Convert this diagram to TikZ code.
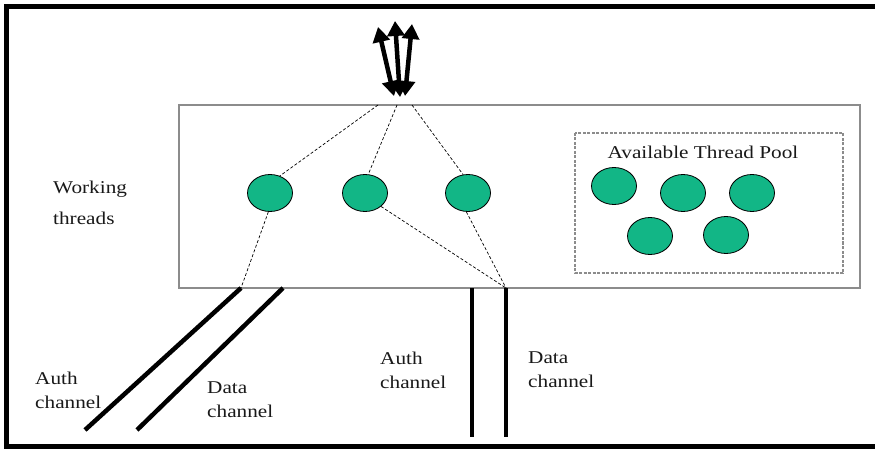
\documentclass[tikz,border=0pt]{standalone}
\usepackage{fontspec}
\setmainfont[FakeStretch=1.18]{Liberation Serif}
\usetikzlibrary{arrows.meta,shapes.geometric}
\definecolor{threadgreen}{RGB}{18,182,134}
\definecolor{boxgray}{RGB}{140,140,140}
\definecolor{textgray}{RGB}{25,25,25}
\tikzset{
  thread/.style={ellipse, draw=black, line width=0.8pt, fill=threadgreen,
    minimum width=45pt, minimum height=37pt, inner sep=0pt},
  link/.style={draw=black, line width=0.7pt, dash pattern=on 3pt off 2pt},
  channel/.style={draw=black, line width=4.5pt},
  io/.style={draw=black, line width=4.5pt,
    {Triangle[length=15pt,width=17pt]}-{Triangle[length=15pt,width=17pt]}},
  lbl/.style={text=textgray, align=left, inner sep=0pt, font=\fontsize{18}{24}\selectfont},
}
\begin{document}
\begin{tikzpicture}[x=1pt,y=-1pt]
  \useasboundingbox (0,0) rectangle (875,449);
  \fill[white] (0,0) rectangle (875,449);

  % outer frame, open on the right
  \draw[line width=5pt] (875,6.5) -- (6.5,6.5) -- (6.5,446.5) -- (875,446.5);

  % server box and pool box
  \draw[boxgray, line width=2pt] (179,105) rectangle (860,288);
  \draw[boxgray, line width=1.3pt, dash pattern=on 3pt off 1.5pt] (575,133) rectangle (843,273);
  \node[text=textgray, font=\fontsize{18}{20}\selectfont] (pooltitle) at (703,152) {Available Thread Pool};

  % working threads
  \node[thread] (w1) at (270,193) {};
  \node[thread] (w2) at (365,193) {};
  \node[thread] (w3) at (468,193) {};

  % pool threads
  \node[thread] (p1) at (614,186) {};
  \node[thread] (p2) at (683,193) {};
  \node[thread] (p3) at (752,193) {};
  \node[thread] (p4) at (650,236) {};
  \node[thread] (p5) at (726,235) {};

  % labels
  \node[lbl, anchor=west, font=\fontsize{18}{31}\selectfont] (working) at (53,203) {Working\\threads};
  \node[lbl, anchor=west] (auth1) at (35,390) {Auth\\channel};
  \node[lbl, anchor=west] (data1) at (207,400) {Data\\channel};
  \node[lbl, anchor=west] (auth2) at (380,370) {Auth\\channel};
  \node[lbl, anchor=west] (data2) at (528,370) {Data\\channel};

  % client/server traffic at the top
  \coordinate (t1) at (378,27);  \coordinate (b1) at (394,96);
  \coordinate (t2) at (395,21);  \coordinate (b2) at (400,97);
  \coordinate (t3) at (412,24);  \coordinate (b3) at (405,96);
  \draw[io] (b1) -- (t1);
  \draw[io] (b2) -- (t2);
  \draw[io] (b3) -- (t3);

  % dispatch links from the top of the box
  \coordinate (d1) at (378,105);
  \coordinate (d2) at (397,105);
  \coordinate (d3) at (412,105);
  \draw[link] (d1) -- (w1.60);
  \draw[link] (d2) -- (w2.80);
  \draw[link] (d3) -- (w3.105);

  % channel entry points
  \coordinate (c1top) at (241,288);  \coordinate (c1bot) at (85,430);
  \coordinate (c2top) at (283,288);  \coordinate (c2bot) at (137,430);
  \coordinate (c3top) at (472,288);  \coordinate (c3bot) at (472,437);
  \coordinate (c4top) at (506,288);  \coordinate (c4bot) at (506,437);

  \draw[link] (w1.265) -- (c1top);
  \draw[link] (w2.-40) -- (c4top);
  \draw[link] (w3.-95) -- (c4top);

  % the channels
  \draw[channel] (c1top) -- (c1bot);
  \draw[channel] (c2top) -- (c2bot);
  \draw[channel] (c3top) -- (c3bot);
  \draw[channel] (c4top) -- (c4bot);
\end{tikzpicture}
\end{document}
